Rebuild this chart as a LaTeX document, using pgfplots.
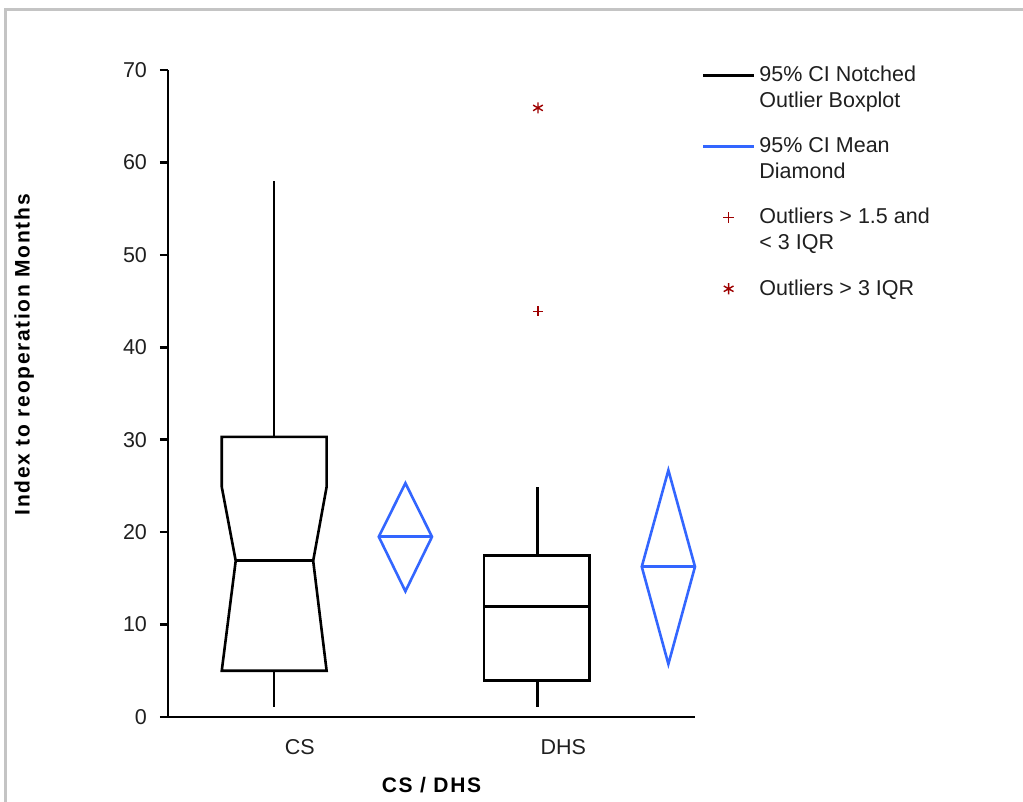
\documentclass[border=0pt]{standalone}
\usepackage{pgfplots}
\pgfplotsset{compat=1.18}
\usepackage{fontspec}
\setmainfont{Liberation Sans}
\newfontfamily\lblfont[LetterSpace=8]{Liberation Sans}

\definecolor{diablue}{HTML}{3366FF}
\definecolor{outred}{HTML}{9E0000}
\definecolor{framegray}{HTML}{C4C4C4}

% legend samples: line/mark sits on the first text line of a two-line entry
\pgfplotsset{
  linelegend/.style={legend image code/.code={
    \node[anchor=center, inner sep=0pt, outer sep=0pt, minimum width=25.5pt, minimum height=12.8pt] at (12.75pt,0pt) {};
    \draw[##1] (0pt,6.4pt) -- (25.5pt,6.4pt);}},
  marklegendtop/.style={legend image code/.code={
    \node[anchor=center, inner sep=0pt, outer sep=0pt, minimum width=25.5pt, minimum height=12.8pt] at (12.75pt,0pt) {};
    \path[##1] plot coordinates {(12.75pt,6.4pt)};}},
  marklegend/.style={legend image code/.code={
    \node[anchor=center, inner sep=0pt, outer sep=0pt, minimum width=25.5pt, minimum height=0pt] at (12.75pt,0pt) {};
    \path[##1] plot coordinates {(12.75pt,0pt)};}},
}

\begin{document}
\begin{tikzpicture}
\useasboundingbox (-84pt,-42.5pt) rectangle (427.5pt,358.5pt);
\begin{axis}[
  scale only axis, width=263.5pt, height=323.5pt,
  at={(0,0)}, anchor=south west,
  xmin=0, xmax=2, ymin=0, ymax=70,
  clip=false,
  axis x line=bottom, axis y line=left,
  axis line style={line width=1.25pt, -},
  every tick/.style={black, line width=1.25pt},
  tick align=outside,
  major tick length=4pt, minor tick length=4pt,
  ytick={0,10,...,70},
  xtick={0.5,1.5}, xticklabels={CS,DHS},
  xtick style={draw=none},
  minor xtick={0,1,2},
  /pgf/number format/assume math mode=true,
  tick label style={font=\fontsize{10.75}{12}\selectfont, text=black!88},
  yticklabel style={anchor=east, xshift=-3pt},
  xticklabel style={yshift=-3.5pt},
  xlabel={CS / DHS}, ylabel={Index to reoperation Months},
  label style={font=\lblfont\bfseries\fontsize{10.5}{12}\selectfont},
  xlabel style={at={(axis description cs:0.5,-0.105)}, anchor=center},
  ylabel style={at={(axis description cs:-0.273,0.56)}, anchor=center},
  legend style={at={(rel axis cs:1.013,1.012)}, anchor=north west, draw=none,
    inner sep=0pt, outer sep=0pt, row sep=9.5pt,
    font=\fontsize{10.75}{12.85}\selectfont, text=black!88, cells={align=left}},
  legend cell align=left,
]
% CS notched box
\addplot[black, line width=1.3pt, forget plot] coordinates {
  (0.204,30.3) (0.204,24.9) (0.257,16.9) (0.204,5.0)
  (0.602,5.0) (0.551,16.9) (0.602,24.9) (0.602,30.3)} --cycle;
\addplot[black, line width=1.3pt, forget plot] coordinates {(0.257,16.9) (0.551,16.9)};
\addplot[black, line width=1.3pt, forget plot] coordinates {(0.403,30.3) (0.403,58.0)};
\addplot[black, line width=1.3pt, forget plot] coordinates {(0.403,5.0) (0.403,1.05)};
% CS mean diamond
\addplot[diablue, line width=1.3pt, forget plot] coordinates {
  (0.800,19.5) (0.901,25.3) (1.002,19.5) (0.901,13.6)} --cycle;
\addplot[diablue, line width=1.3pt, forget plot] coordinates {(0.800,19.5) (1.002,19.5)};
% DHS box
\addplot[black, line width=1.3pt, forget plot] coordinates {
  (1.200,3.93) (1.200,17.5) (1.599,17.5) (1.599,3.93)} --cycle;
\addplot[black, line width=1.3pt, forget plot] coordinates {(1.200,11.93) (1.599,11.93)};
\addplot[black, line width=1.3pt, forget plot] coordinates {(1.402,17.5) (1.402,24.9)};
\addplot[black, line width=1.3pt, forget plot] coordinates {(1.402,3.93) (1.402,1.1)};
% DHS mean diamond
\addplot[diablue, line width=1.3pt, forget plot] coordinates {
  (1.798,16.26) (1.899,26.7) (2.000,16.26) (1.899,5.73)} --cycle;
\addplot[diablue, line width=1.3pt, forget plot] coordinates {(1.798,16.26) (2.000,16.26)};
% outliers
\addplot[only marks, mark=+, outred, mark size=2.6pt, line width=0.6pt, forget plot] coordinates {(1.404,43.9)};
\addplot[only marks, mark=asterisk, outred, mark size=2.8pt, line width=0.7pt, forget plot] coordinates {(1.404,65.9)};

\addlegendimage{black, line width=1.3pt, linelegend}
\addlegendentry{95\% CI Notched\\Outlier Boxplot}
\addlegendimage{diablue, line width=1.3pt, linelegend}
\addlegendentry{95\% CI Mean\\Diamond}
\addlegendimage{only marks, outred, mark=+, mark size=2.6pt, line width=0.6pt, marklegendtop}
\addlegendentry{Outliers > 1.5 and\\< 3 IQR}
\addlegendimage{only marks, outred, mark=asterisk, mark size=2.8pt, line width=0.7pt, marklegend}
\addlegendentry{Outliers > 3 IQR}
\end{axis}
\draw[framegray, line width=1.5pt] (-81.25pt,-42.5pt) -- (-81.25pt,353.75pt) -- (427.5pt,353.75pt);
\end{tikzpicture}
\end{document}
